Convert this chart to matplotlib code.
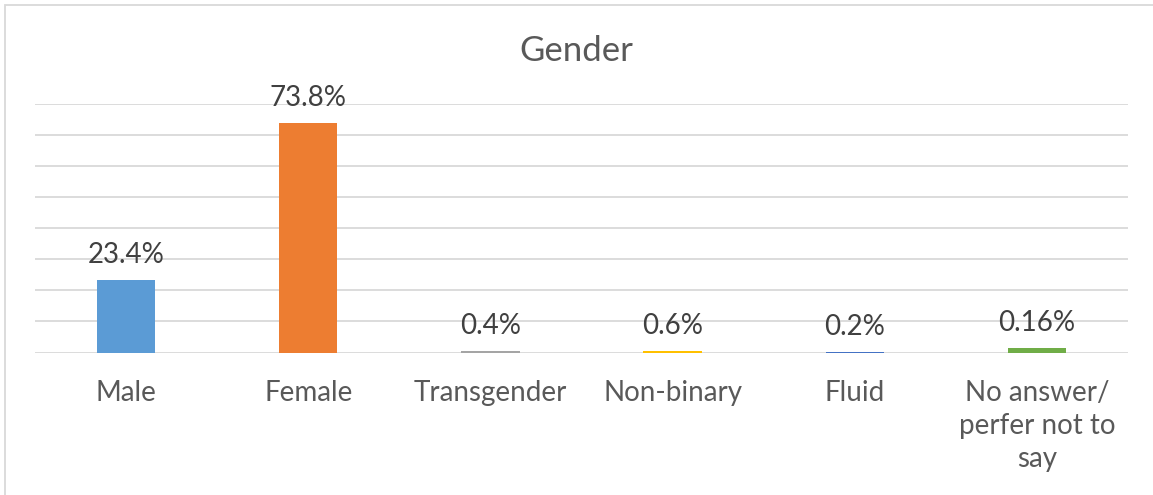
import matplotlib.pyplot as plt
from matplotlib.patches import Rectangle

# dane z wykresu
categories = ['Male', 'Female', 'Transgender', 'Non-binary', 'Fluid',
              'No answer/\nperfer not to\nsay']
values = [23.4, 73.8, 0.4, 0.6, 0.2, 1.4]
value_labels = ['23.4%', '73.8%', '0.4%', '0.6%', '0.2%', '0.16%']
colors = ['#5B9BD5', '#ED7D31', '#A5A5A5', '#FFC000', '#4472C4', '#70AD47']

plt.rcParams['font.family'] = ['Lato', 'DejaVu Sans']

W, H = 1153, 495
fig = plt.figure(figsize=(W / 100, H / 100), dpi=100)
ax = fig.add_axes([35 / W, 1 - 352.5 / H, (1128 - 35) / W, (352.5 - 104) / H])

x = range(len(categories))
ax.bar(x, values, width=0.32, color=colors, zorder=3)
ax.set_ylim(0, 80)
ax.set_xlim(-0.5, len(categories) - 0.5)
ax.set_yticks(range(0, 81, 10))
ax.yaxis.grid(True, color='#D9D9D9', linewidth=1.3, zorder=0)
ax.tick_params(axis='y', left=False, labelleft=False)
ax.tick_params(axis='x', length=0, pad=20, labelsize=20, labelcolor='#595959')
ax.set_xticks(list(x))
ax.set_xticklabels(categories, linespacing=1.33)
for s in ax.spines.values():
    s.set_visible(False)

for i, (v, lab) in enumerate(zip(values, value_labels)):
    ax.annotate(lab, (i, v), xytext=(0, 12), textcoords='offset pixels',
                ha='center', va='bottom', fontsize=20, color='#404040')

fig.text(0.5, 1 - 51 / H, 'Gender', ha='center', va='center',
         fontsize=25, color='#595959')

# ramka wykresu
fig.patches.append(Rectangle((5 / W, -0.1), 1.1, 1.1 - 5 / H,
                             transform=fig.transFigure, fill=False,
                             edgecolor='#D9D9D9', linewidth=1.3))

fig.savefig('out.png', dpi=100)
